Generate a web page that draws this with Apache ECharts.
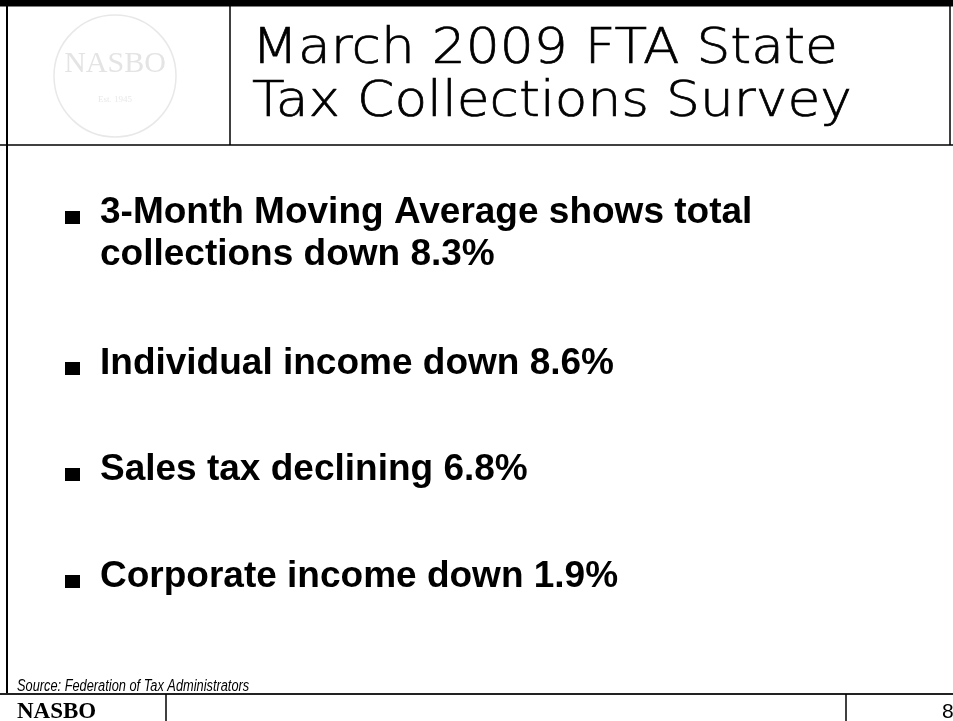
<!DOCTYPE html>
<html>
<head>
<meta charset="utf-8">
<script src="https://cdn.jsdelivr.net/npm/echarts@6/dist/echarts.min.js"></script>
<style>
  html,body{margin:0;padding:0;background:#fff;}
  #slide{width:953px;height:721px;}
</style>
</head>
<body>
<div id="slide"></div>
<script>
// slide texts
var titleLines=['March 2009 FTA State','Tax Collections Survey'];
var bullets=[
  ['3-Month Moving Average shows total','collections down 8.3%'],
  ['Individual income down 8.6%'],
  ['Sales tax declining 6.8%'],
  ['Corporate income down 1.9%']
];
var bulletBaselines=[226,377,483,590];
var sourceNote='Source: Federation of Tax Administrators';
var footerLeft='NASBO';
var pageNumber='8';
var logoText='NASBO';

var chart=echarts.init(document.getElementById('slide'),null,{renderer:'canvas'});

// baseline -> middle y (rough, em based)
function mid(baseline,size){
  return baseline-size*0.35;
}

var elements=[];

// frame lines
function line(x1,y1,x2,y2,w,color){
  elements.push({
    type:'line',
    shape:{x1:x1,y1:y1,x2:x2,y2:y2},
    style:{stroke:color||'#000',lineWidth:w||1}
  });
}
line(0,3,953,3,7,'#000');
line(7,0,7,694,2,'#000');
line(230,0,230,145,1.5,'#000');
line(950,0,950,145,1.5,'#000');
line(0,145,953,145,1.5,'#000');
line(0,694,953,694,2,'#222');
line(166,694,166,721,1.5,'#000');
line(846,694,846,721,1.5,'#000');

// faded logo
elements.push({
  type:'circle',
  shape:{cx:115,cy:76,r:61},
  style:{fill:'none',stroke:'#e8e8e8',lineWidth:1.5}
});
elements.push({
  type:'text',
  style:{x:115,y:64,text:logoText,fill:'#e4e4e4',font:'30px "Liberation Serif"',align:'center',verticalAlign:'middle'}
});
elements.push({
  type:'text',
  style:{x:115,y:100,text:'Est. 1945',fill:'#e8e8e8',font:'9px "Liberation Serif"',align:'center',verticalAlign:'middle'}
});

// title, a bit wider than DejaVu so stretch it
titleLines.forEach(function(t,i){
  elements.push({
    type:'text',
    x:252,y:mid(67+i*53,49),
    scaleX:1.09,
    style:{
      x:0,y:0,text:t,fill:'#000',stroke:'#000',lineWidth:0.7,
      font:'200 49px "DejaVu Sans"',align:'left',verticalAlign:'middle'
    }
  });
});

// bullets
bullets.forEach(function(lines,i){
  var b=bulletBaselines[i];
  elements.push({
    type:'rect',
    shape:{x:65,y:b-15,width:15,height:13},
    style:{fill:'#000'}
  });
  lines.forEach(function(t,j){
    elements.push({
      type:'text',
      style:{
        x:100,y:mid(b+j*42,37),text:t,fill:'#000',
        font:'bold 37px "Liberation Sans"',align:'left',verticalAlign:'middle'
      }
    });
  });
});

// footer
elements.push({
  type:'text',
  x:17,y:mid(692,16),
  scaleX:0.8,
  style:{x:0,y:0,text:sourceNote,fill:'#000',font:'italic 16px "Liberation Sans"',align:'left',verticalAlign:'middle'}
});
elements.push({
  type:'text',
  style:{x:17,y:mid(720,23),text:footerLeft,fill:'#000',font:'bold 23px "Liberation Serif"',align:'left',verticalAlign:'middle'}
});
elements.push({
  type:'text',
  style:{x:942,y:mid(720,21),text:pageNumber,fill:'#000',font:'21px "Liberation Sans"',align:'left',verticalAlign:'middle'}
});

chart.setOption({
  backgroundColor:'#fff',
  animation:false,
  graphic:{elements:elements}
});
</script>
</body>
</html>
